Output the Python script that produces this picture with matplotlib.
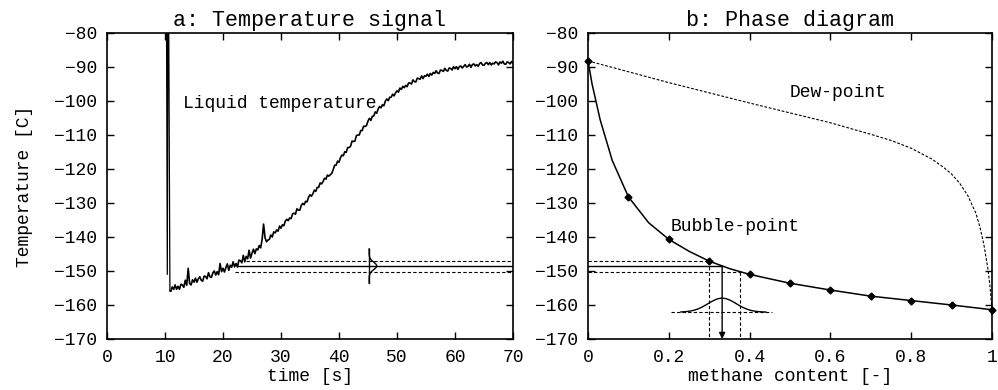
"""
Liquid temperature signal and methane/ethane phase diagram
"""

import numpy as np
import matplotlib.pyplot as plt

plt.rcParams['font.family'] = ['Liberation Mono', 'DejaVu Sans Mono']
plt.rcParams['font.size'] = 13

# panel a: thermocouple signal (spike when probe enters the liquid)
spike_t = [10.2, 10.4, 10.55, 10.85, 11.0]
spike_T = [-40.0, -151.0, -40.0, -156.0, -155.9]

# sampled every 0.25 s from t = 11 s
liquid_T = [
    -155.9, -154.7, -155.4, -154.1, -155.4, -154.5, -155.4, -153.9, -154.1, -154.8,
    -152.7, -154.2, -149.2, -153.7, -154.1, -152.6, -153.3, -152.1, -153.3, -152.3,
    -151.7, -152.7, -153.0, -151.5, -151.6, -152.3, -150.5, -151.7, -151.9, -150.6,
    -150.0, -151.2, -150.2, -151.1, -147.8, -150.2, -149.2, -150.3, -149.0, -147.9,
    -149.8, -148.3, -148.9, -147.3, -148.8, -147.8, -148.8, -146.8, -147.0, -147.6,
    -145.4, -147.3, -145.7, -146.4, -143.9, -146.2, -144.8, -143.6, -144.9, -143.5,
    -143.8, -142.5, -143.2, -140.7, -136.2, -140.2, -141.4, -140.9, -140.7, -139.4,
    -140.0, -138.5, -138.8, -137.9, -138.3, -136.8, -137.4, -136.4, -136.7, -135.3,
    -134.8, -135.2, -134.4, -134.6, -133.2, -133.0, -133.3, -131.7, -132.1, -132.1,
    -130.7, -130.1, -130.5, -129.5, -129.7, -128.3, -127.6, -128.0, -127.3, -126.2,
    -126.6, -125.4, -125.4, -124.1, -124.4, -123.7, -122.7, -123.0, -121.8, -122.1,
    -121.7, -121.3, -120.2, -118.9, -118.9, -117.7, -118.0, -116.7, -115.9, -116.1,
    -114.9, -115.1, -113.7, -113.7, -113.3, -111.8, -111.9, -111.8, -110.2, -110.0,
    -110.0, -108.7, -108.7, -107.4, -107.5, -107.2, -105.9, -105.1, -105.7, -104.5,
    -104.4, -103.2, -103.6, -102.4, -101.6, -102.0, -101.1, -101.4, -100.0, -99.4,
    -99.9, -98.9, -98.9, -98.0, -98.5, -97.6, -97.0, -97.4, -96.2, -96.6,
    -95.7, -96.1, -95.4, -95.8, -94.7, -94.7, -95.0, -93.8, -94.3, -94.4,
    -93.3, -93.4, -93.6, -92.6, -93.4, -92.6, -92.7, -92.1, -92.8, -91.9,
    -92.4, -91.6, -91.9, -91.1, -91.8, -91.9, -90.9, -91.0, -91.3, -90.4,
    -91.0, -91.2, -90.3, -90.4, -90.9, -89.9, -90.5, -89.9, -90.7, -89.9,
    -89.7, -90.3, -89.8, -89.3, -90.0, -89.8, -89.2, -90.1, -89.3, -89.1,
    -89.7, -89.3, -89.8, -89.0, -88.7, -89.4, -89.5, -88.9, -88.7, -89.3,
    -88.7, -89.4, -88.9, -89.1, -88.5, -88.7, -89.4, -88.5, -88.9, -88.3,
    -89.1, -89.2, -88.5, -88.7, -89.1, -88.4, -88.9,
]
time_s = 11.0 + 0.25 * np.arange(len(liquid_T))

# measured liquid temperature and its band
T_meas = -148.5
T_hi = -147.1
T_lo = -150.2
band_start = [22.5, 24.0, 22.0]   # meas, hi, lo
gauss_t = 45.2
gauss_amp_t = 1.3
gauss_sig_T = 1.1

# panel b: phase diagram
bubble_x = [0, 0.01, 0.03, 0.06, 0.1, 0.15, 0.2, 0.25, 0.3, 0.35, 0.4,
            0.5, 0.6, 0.7, 0.8, 0.9, 1.0]
bubble_T = [-88.2, -95.0, -105.5, -117.5, -128.2, -135.8, -140.7, -144.2, -147.1,
            -149.3, -151.0, -153.6, -155.6, -157.4, -158.7, -160.0, -161.4]
marker_x = [0, 0.1, 0.2, 0.3, 0.4, 0.5, 0.6, 0.7, 0.8, 0.9, 1.0]
marker_T = [-88.2, -128.2, -140.7, -147.1, -151.0, -153.6, -155.6, -157.4,
            -158.7, -160.0, -161.4]
dew_x = [0, 0.1, 0.2, 0.3, 0.4, 0.5, 0.6, 0.7, 0.75, 0.8, 0.85, 0.88, 0.9,
         0.92, 0.94, 0.96, 0.97, 0.98, 0.99, 0.995, 1.0]
dew_T = [-88.2, -91.4, -94.6, -97.6, -100.6, -103.5, -106.4, -109.8, -111.6,
         -113.9, -117.0, -119.5, -121.5, -124.2, -127.8, -133.0, -137.0, -142.3,
         -149.5, -154.5, -161.5]

# composition
x_meas = 0.332
x_hi = 0.30
x_lo = 0.376
gauss_base = -162.1
gauss_amp = 4.1
gauss_sig = 0.035
gauss_span = (0.206, 0.455)

dash = (0, (3, 2))
fig = plt.figure(figsize=(9.98, 3.90), dpi=100)
ax1 = fig.add_axes([0.1072, 0.1308, 0.4068, 0.7846])
ax2 = fig.add_axes([0.5892, 0.1308, 0.4048, 0.7846])

# --- a ---
ax1.plot(spike_t, spike_T, color='k', lw=0.9)
ax1.plot(time_s, liquid_T, color='k', lw=1.2)
ax1.plot([band_start[0], 70], [T_meas, T_meas], color='k', lw=1.0)
ax1.plot([band_start[1], 70], [T_hi, T_hi], color='k', lw=0.8, ls=dash)
ax1.plot([band_start[2], 70], [T_lo, T_lo], color='k', lw=0.8, ls=dash)
gT = np.linspace(T_meas - 5, T_meas + 5, 80)
ax1.plot([gauss_t, gauss_t], [gT[0], gT[-1]], color='k', lw=1.0)
ax1.plot(gauss_t + gauss_amp_t * np.exp(-(gT - T_meas) ** 2 / (2 * gauss_sig_T ** 2)),
         gT, color='k', lw=1.0)
ax1.text(13.1, -100.6, 'Liquid temperature', va='center', ha='left')
ax1.set_xlim(0, 70)
ax1.set_ylim(-170, -80)
ax1.set_xticks(range(0, 71, 10))
ax1.set_yticks(range(-170, -79, 10))
ax1.set_xlabel('time [s]', labelpad=2)
ax1.set_ylabel('Temperature [C]', labelpad=15)
ax1.set_title('a: Temperature signal', pad=5)

# --- b ---
ax2.plot(bubble_x, bubble_T, color='k', lw=1.1)
ax2.plot(marker_x, marker_T, ls='none', marker='D', ms=3.5, color='k', clip_on=False)
ax2.plot(dew_x, dew_T, color='k', lw=0.8, ls=(0, (2.5, 1.5)))
ax2.plot([0, x_meas], [T_meas, T_meas], color='k', lw=1.0)
ax2.plot([0, x_hi], [T_hi, T_hi], color='k', lw=0.8, ls=dash)
ax2.plot([0, x_lo], [T_lo, T_lo], color='k', lw=0.8, ls=dash)
ax2.plot([x_hi, x_hi], [T_hi, -170], color='k', lw=0.8, ls=dash)
ax2.plot([x_lo, x_lo], [T_lo, -170], color='k', lw=0.8, ls=dash)
ax2.annotate('', xy=(x_meas, -170), xytext=(x_meas, T_meas),
             arrowprops=dict(arrowstyle='-|>', color='k', lw=1.0, mutation_scale=9,
                             shrinkA=0, shrinkB=0))
ax2.plot(gauss_span, [gauss_base, gauss_base], color='k', lw=0.8, ls=dash)
gx = np.linspace(0.23, 0.44, 80)
ax2.plot(gx, gauss_base + gauss_amp * np.exp(-(gx - x_meas) ** 2 / (2 * gauss_sig ** 2)),
         color='k', lw=1.0)
ax2.text(0.62, -97.6, 'Dew-point', va='center', ha='center')
ax2.text(0.205, -136.8, 'Bubble-point', va='center', ha='left')
ax2.set_xlim(0, 1)
ax2.set_ylim(-170, -80)
ax2.set_xticks([0, 0.2, 0.4, 0.6, 0.8, 1])
ax2.set_xticklabels(['0', '0.2', '0.4', '0.6', '0.8', '1'])
ax2.set_yticks(range(-170, -79, 10))
ax2.set_xlabel('methane content [-]', labelpad=2)
ax2.set_title('b: Phase diagram', pad=5)

for ax in (ax1, ax2):
    ax.tick_params(direction='in', top=True, right=True, length=5, width=1, pad=7)
    for s in ax.spines.values():
        s.set_linewidth(1.2)

fig.savefig('out.png', dpi=100)
